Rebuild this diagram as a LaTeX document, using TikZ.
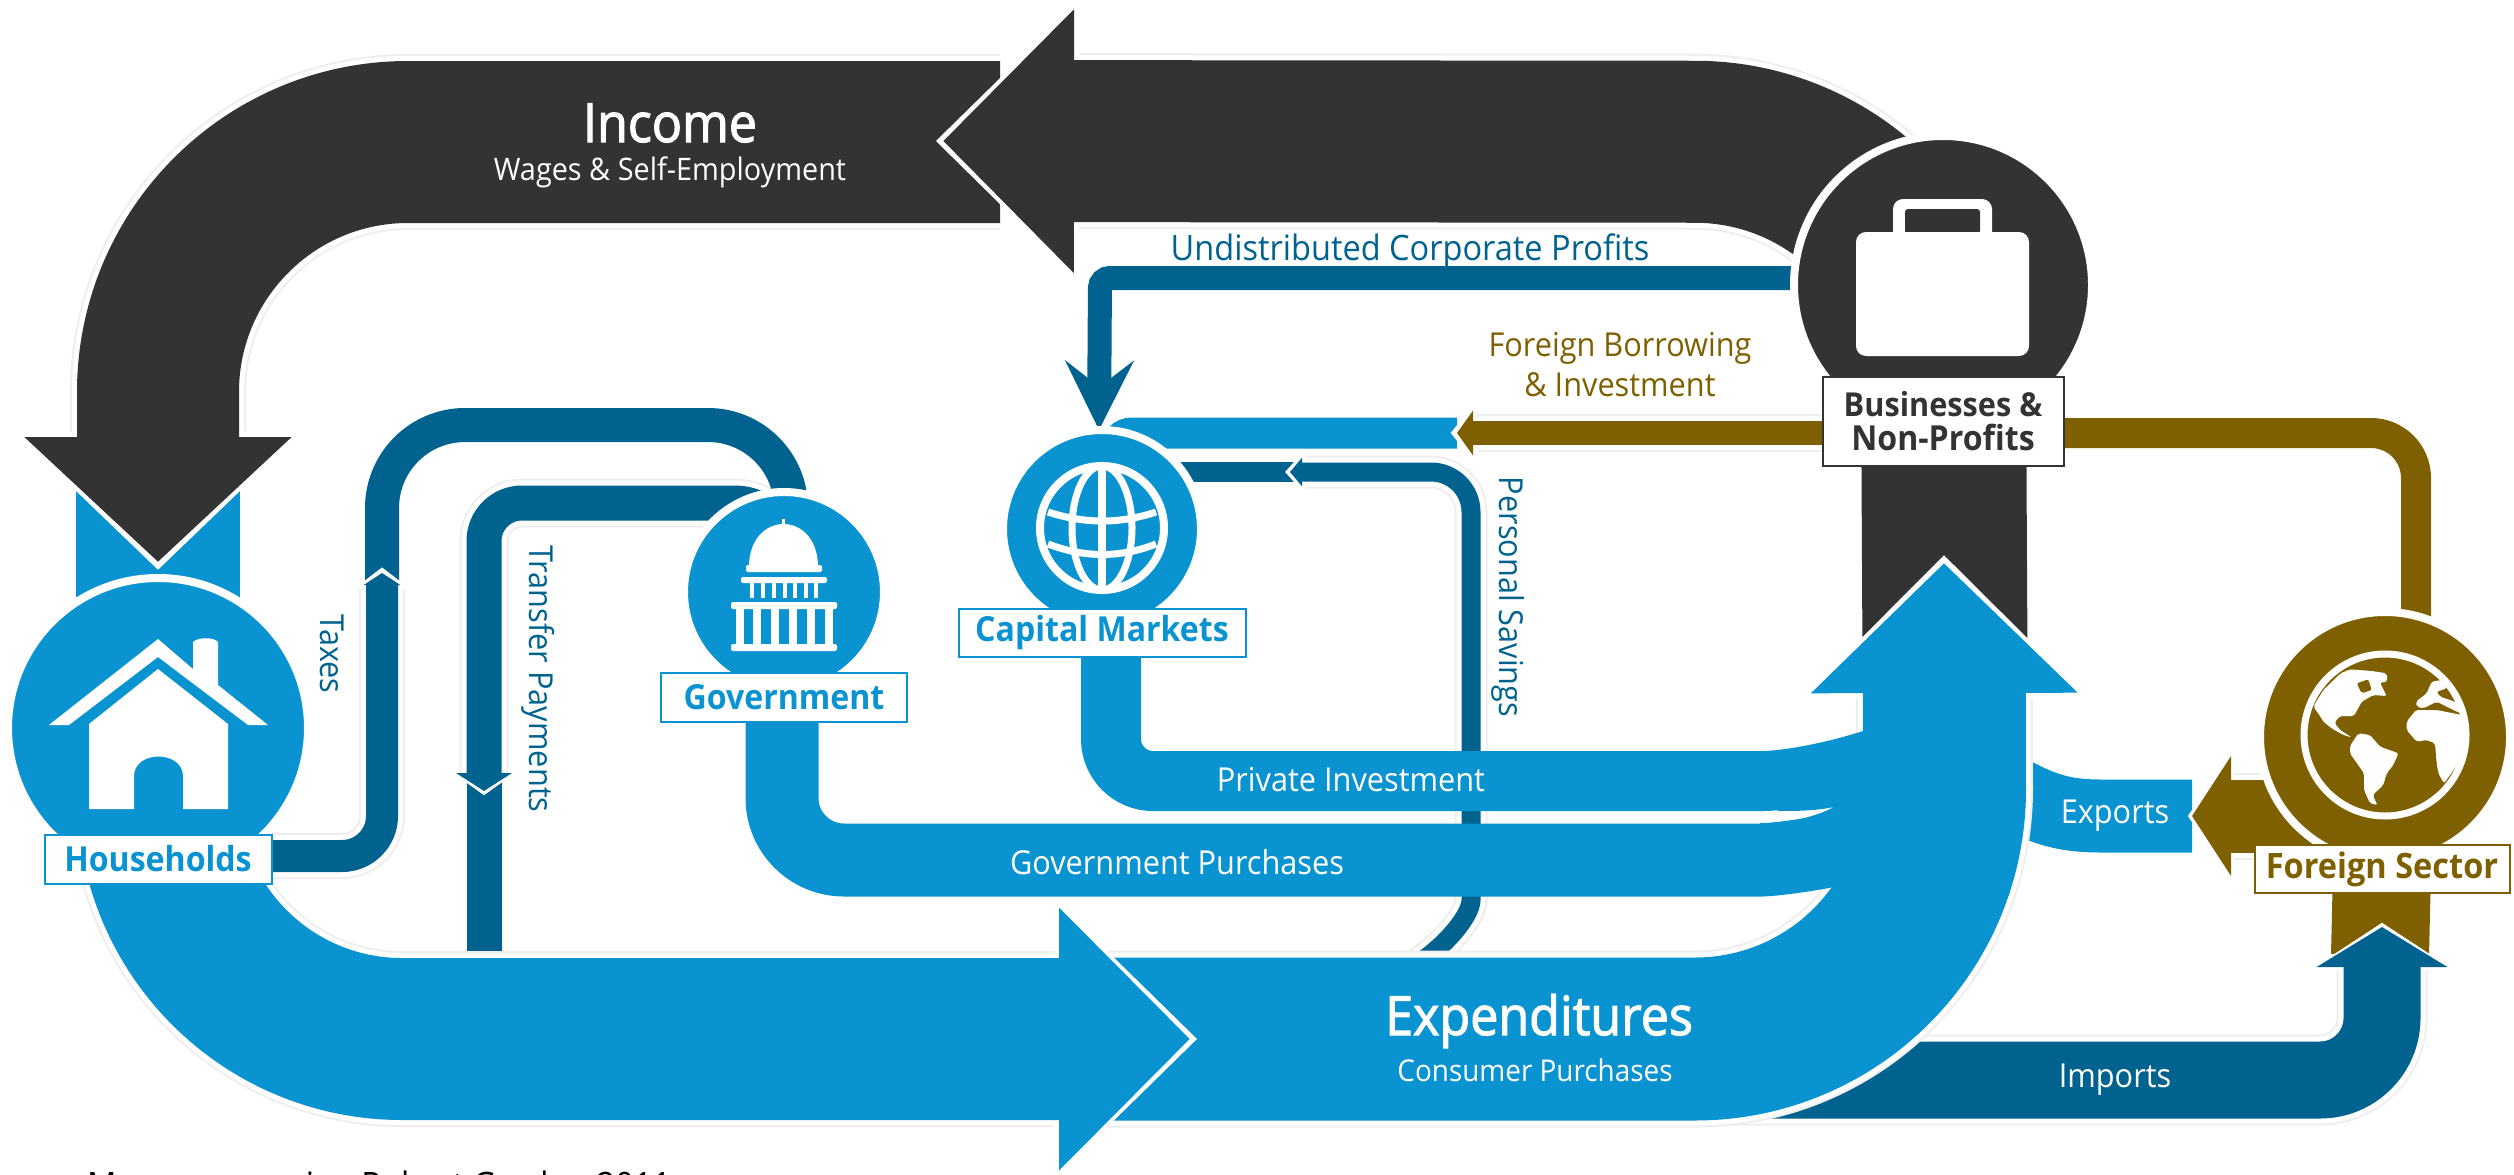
\documentclass[tikz,border=0pt]{standalone}
\usepackage{fontspec}
\setmainfont{Open Sans}[FakeStretch=0.93]
\newfontfamily\semifont{Open Sans}[FakeStretch=0.93,FakeBold=2]
\usetikzlibrary{arrows.meta,backgrounds}
\definecolor{flowblue}{HTML}{0993D1}
\definecolor{navy}{HTML}{00628F}
\definecolor{ochre}{HTML}{7F6000}
\definecolor{slate}{HTML}{333333}
\definecolor{rim}{HTML}{EEEEEE}
\newcommand{\px}[1]{\fontsize{#1}{#1}\selectfont}

\begin{document}
\begin{tikzpicture}[x=1pt,y=-1pt,
                main/.style = {circle, fill=#1, draw=white, line width=8pt, minimum size=300pt, inner sep=0pt},
                tag/.style = {draw=#1, text=#1, fill=white, line width=2pt, font=\px{34.5}\bfseries, align=center, inner sep=0pt},
                bare/.style 2 args = {draw=#1, line width=#2},
                flowhead/.style n args = {5}{draw=#1, line width=#2, -{Triangle[width=#3,length=#4,fill=#1]},
                    preaction={draw=rim, line width=#2+14pt, -, shorten >=#4},
                    preaction={draw=white, line width=#2+10pt, -, shorten >=#4},
                    preaction={draw=white, line width=1pt, -{Triangle[width=#3+5*#5,length=#4+2.4*#5]}, shorten >=-1.4*#5}},
                label/.style = {text=#1, font=\px{33}, align=center, inner sep=0pt}]
                \useasboundingbox (0,0) rectangle (2514,1175);

                % circles and their tags
                \node[main=flowblue] (hh) at (158,728) {};
                \node[tag=flowblue, minimum width=227pt, minimum height=49pt] (hhtag) [below of=hh, node distance=131pt] {Households};
                \node[main=flowblue, minimum size=200pt] (gov) at (784,592) {};
                \node[tag=flowblue, minimum width=246pt, minimum height=49pt] (govtag) [below of=gov, node distance=105pt] {Government};
                \node[main=flowblue, minimum size=198pt] (cap) at (1102,529) {};
                \node[tag=flowblue, minimum width=287pt, minimum height=48pt] (captag) [below of=cap, node distance=104pt] {Capital Markets};
                \node[main=slate, minimum size=298pt] (biz) at (1943,285) {};
                \node[tag=slate, minimum width=241pt, minimum height=89pt] (biztag) [below of=biz, node distance=136pt] {\fontsize{33}{42}\selectfont Businesses \&\\Non-Profits};
                \node[main=ochre, minimum size=250pt] (for) at (2385,737) {};
                \node[tag=ochre, minimum width=255pt, minimum height=48pt, font=\px{35}\bfseries] (fortag) at (2382,869) {Foreign Sector};

                % free ends of the connectors
                \coordinate (inctip) at (943,141);
                \coordinate (hhtip) at (158,562);
                \coordinate (exptip) at (1944,563);
                \coordinate (buytip) at (1190,1039);
                \coordinate (captip) at (1099,430);
                \coordinate (fbtip) at (1457,433);
                \coordinate (savtip) at (1290,472);
                \coordinate (taxtip) at (382,573);
                \coordinate (paytip) at (484,791);
                \coordinate (exptop) at (2192,816);
                \coordinate (imptip) at (2382,927);

                \begin{scope}[on background layer]
                    % savings, transfers, taxes
                    \draw[bare={navy}{20pt}] (cap.center |- savtip) -- (1300,472);
                    \draw[flowhead={navy}{19pt}{28pt}{12pt}{3.5pt}, rounded corners=40pt] (1400,975) .. controls (1445,950) and (1471,915) .. (1471,860) -- (1471,472) -- (savtip);
                    \draw[bare={navy}{35pt}] (484,780) -- (484,965);
                    \draw[flowhead={navy}{35pt}{55pt}{18pt}{3pt}] (gov.center |- 787,560) [rounded corners=52pt] -- (787,503) [rounded corners=38pt] -- (484,503) -- (paytip);
                    \draw[bare={navy}{34pt}, rounded corners=83pt] (382,600) -- (382,425) -- (791,425) -- (791,592);
                    \draw[flowhead={navy}{32pt}{36pt}{12pt}{4pt}, rounded corners=40pt] (hhtag.center |- 382,856) -- (382,856) -- (taxtip);
                    % income
                    \draw[bare={flowblue}{164pt}] (hh.center) -- (158,480);
                    \draw[flowhead={slate}{162pt}{260pt}{125pt}{5.5pt}, rounded corners=250pt] (1000,142) -- (158,142) -- (hhtip);
                    \draw[bare={slate}{165pt}] (biz.center) -- (1945,660);
                    \draw[flowhead={slate}{162pt}{256pt}{131pt}{5pt}, rounded corners=250pt] (1945,300) -- (1945,142) -- (inctip);
                    % lines at the capital markets
                    \draw[bare={flowblue}{31pt}, rounded corners=17pt] (1115,529) -- (1115,433) -- (fbtip);
                    \draw[navy, line width=24pt, rounded corners=10pt, -{Stealth[width=68pt,length=69pt,inset=26pt]}] (biz.center |- 1100,278) -- (1100,278) -- (captip);
                    \draw[flowhead={ochre}{24pt}{44pt}{16pt}{4.5pt}] (biztag.center |- fbtip) -- (fbtip);
                    % foreign sector
                    \draw[bare={ochre}{30pt}, rounded corners=45pt] (2416,737) -- (2416,433) -- (biztag.center |- fbtip);
                    \draw[bare={flowblue}{73pt}] (1985,778) .. controls (2030,802) and (2050,816) .. (2100,816) -- (exptop);
                    \draw[flowhead={ochre}{73pt}{118pt}{39pt}{3pt}] (for.center |- exptop) -- (exptop);
                    \draw[bare={ochre}{98pt}] (fortag.center) -- (2380,955);
                    \draw[flowhead={navy}{77pt}{129pt}{40pt}{3pt}, rounded corners=62pt] (1650,1080) -- (2382,1080) -- (imptip);
                    % expenditures
                    \draw[flowhead={flowblue}{163pt}{259pt}{130pt}{5.5pt}, rounded corners=250pt] (1100,1039) -- (1945,1039) -- (exptip);
                    \draw[flowhead={flowblue}{162pt}{255pt}{131pt}{5pt}, rounded corners=244pt] (hh.center) -- (158,1039) -- (buytip);
                    \draw[bare={flowblue}{60pt}, rounded corners=42pt] (1111,600) -- (1111,781) -- (1720,781) .. controls (1790,781) and (1870,768) .. (1945,730);
                    \draw[bare={flowblue}{73pt}, rounded corners=62pt] (782,600) -- (782,860) -- (1700,860) .. controls (1770,860) and (1850,853) .. (1945,820);
                    \fill[flowblue] (1760,823) .. controls (1790,823) and (1815,817) .. (1834,807) .. controls (1815,811) and (1795,811) .. (1778,811) -- (1778,790) -- (1880,770) -- (1880,860) -- (1760,850) -- cycle;
                \end{scope}

                % house
                \fill[white] (158,639) -- (193,669) -- (193,642) .. controls (198,637) and (214,637) .. (218,642) -- (218,685) -- (268,725) -- (248,725) -- (158,657) -- (69,725) -- (49,725) -- cycle;
                \fill[white] (158,669) -- (228,724) -- (228,809) -- (183,809) -- (183,776) .. controls (183,750) and (134,750) .. (134,776) -- (134,809) -- (89,809) -- (89,724) -- cycle;
                % capitol
                \fill[white] (782,519) rectangle (785,533);
                \fill[white] (778,530) rectangle (789,536);
                \fill[white] (749,566) .. controls (750,510) and (817,510) .. (818,566) -- cycle;
                \fill[white, rounded corners=2pt] (746,565) rectangle (822,572);
                \fill[white, rounded corners=2pt] (741,577) rectangle (827,583);
                \fill[white, rounded corners=2pt] (731,602) rectangle (837,609);
                \fill[white, rounded corners=2pt] (731,644) rectangle (837,651);
                \foreach \colx in {752,763,774,785,795,806,816}
                    \fill[white] (\colx-2,583) rectangle (\colx+2,598);
                \foreach \colx in {740,757,775,793,811,829}
                    \fill[white] (\colx-4,609) rectangle (\colx+4,644);
                % globe
                \draw[white, line width=8pt] (1102,528) ellipse (62 and 62);
                \draw[white, line width=7pt] (1102,528) ellipse (30 and 62);
                \draw[white, line width=8pt] (1102,466) -- (1102,590);
                \draw[white, line width=7pt] (1048,512) .. controls (1085,524) and (1120,524) .. (1156,512);
                \draw[white, line width=7pt] (1048,544) .. controls (1085,558) and (1120,558) .. (1156,544);
                % briefcase
                \fill[white, rounded corners=10pt] (1893,199) rectangle (1992,245);
                \fill[slate, rounded corners=3pt] (1905,209) rectangle (1980,234);
                \fill[white, rounded corners=10pt] (1856,232) rectangle (2029,356);
                % earth
                \draw[white, line width=7pt] (2385,735) circle (81);
                \begin{scope}[shift={(2290,640)}, x=0.3333pt, y=-0.3333pt]
                    \fill[white, rounded corners=2pt] (152,100) -- (180,88) -- (245,93) -- (290,100) -- (292,125) -- (270,128) -- (290,168) -- (250,165) -- (215,185) -- (192,228) -- (178,228) -- (150,228) -- (133,248) -- (150,270) -- (185,292) -- (160,285) -- (125,265) -- (100,245) -- (88,225) -- (70,200) -- (100,150) -- cycle;
                    \fill[ochre, rounded corners=2pt] (200,130) -- (235,118) -- (245,150) -- (215,160) -- cycle;
                    \fill[white, rounded corners=2pt] (205,280) -- (240,285) -- (270,320) -- (325,340) -- (310,375) -- (290,400) -- (280,435) -- (248,465) -- (262,495) -- (240,490) -- (222,450) -- (222,400) -- (180,340) -- (180,318) -- cycle;
                    \fill[white, rounded corners=2pt] (350,245) -- (378,210) -- (440,210) -- (515,225) -- (525,300) -- (505,370) -- (462,430) -- (445,400) -- (440,370) -- (435,310) -- (410,300) -- (380,305) -- (350,270) -- cycle;
                    \fill[white, rounded corners=2pt] (378,185) -- (410,160) -- (425,125) -- (455,120) -- (470,145) -- (440,155) -- (450,170) -- (480,180) -- (505,190) -- (512,220) -- (480,205) -- (460,195) -- (440,185) -- (400,205) -- (380,200) -- cycle;
                \end{scope}

                % band labels
                \node[label=white, font=\px{54}\semifont] (inc) at (670,123) {Income};
                \node[label=white, font=\px{31}] (wages) at (670,172) {Wages \& Self-Employment};
                \node[label=white, font=\px{54}\semifont] (exp) at (1539,1021) {Expenditures};
                \node[label=white, font=\px{30}] (cons) at (1535,1070) {Consumer Purchases};
                \node[label=white] (priv) at (1351,780) {Private Investment};
                \node[label=white] (buy) at (1177,862) {Government Purchases};
                \node[label=white] (exports) at (2115,816) {Exports};
                \node[label=white] (imports) at (2115,1080) {Imports};
                \node[label=navy, font=\px{35}] (undist) at (1410,251) {Undistributed Corporate Profits};
                \node[label=ochre, font=\fontsize{33}{40}\selectfont] (fborrow) at (1620,365) {Foreign Borrowing\\\& Investment};
                \node[label=navy, rotate=-90] (taxes) at (332,654) {Taxes};
                \node[label=navy, rotate=-90] (pay) at (538,679) {Transfer Payments};
                \node[label=navy, rotate=-90] (sav) at (1508,597) {Personal Savings};
                \node[label=black, font=\px{35}, anchor=base west] (src) at (87,1197) {Macroeconomics, Robert Gordon 2011};
            \end{tikzpicture}
\end{document}
